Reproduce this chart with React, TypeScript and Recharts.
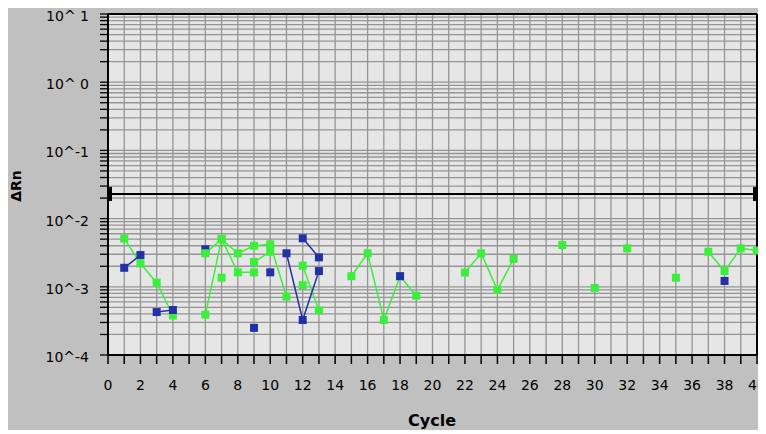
import React from 'react';
import { LineChart, Line, XAxis, YAxis, CartesianGrid, ReferenceLine } from 'recharts';

// Amplification plot: ΔRn (log scale) against PCR cycle, one polyline per well.

type Pt = [number, number];

const cycleTicks = [0, 1, 2, 3, 4, 5, 6, 7, 8, 9, 10, 11, 12, 13, 14, 15, 16, 17, 18, 19, 20,
  21, 22, 23, 24, 25, 26, 27, 28, 29, 30, 31, 32, 33, 34, 35, 36, 37, 38, 39, 40];

const decadeValues = [0.0001, 0.001, 0.01, 0.1, 1, 10];
const decadeLabels = ['10^-4', '10^-3', '10^-2', '10^-1', '10^ 0', '10^ 1'];
const minorSteps = [2, 3, 4, 5, 6, 7, 8, 9];

const threshold = 0.023;

// green wells
const greenWellA: Pt[] = [[1, 0.0051], [2, 0.0022], [3, 0.00115], [4, 0.00038]];
const greenWellB: Pt[] = [[6, 0.0031], [7, 0.005], [8, 0.0031], [9, 0.004], [10, 0.0042], [11, 0.00072]];
const greenWellC: Pt[] = [[6, 0.00039], [7, 0.005], [8, 0.00163], [9, 0.00163]];
const greenWellD: Pt[] = [[9, 0.00231], [10, 0.00327], [12, 0.00106]];
const greenWellE: Pt[] = [[7, 0.00136], [12, 0.00204], [13, 0.00045]];
const greenWellF: Pt[] = [[15, 0.00143], [16, 0.0031], [17, 0.000326], [18, 0.00143], [19, 0.00074]];
const greenWellG: Pt[] = [[22, 0.00162], [23, 0.0031], [24, 0.0009], [25, 0.00257]];
const greenWellH: Pt[] = [[28, 0.0041], [30, 0.00096], [32, 0.00366], [35, 0.00136]];
const greenWellI: Pt[] = [[37, 0.00327], [38, 0.0017], [39, 0.00366], [40, 0.0034]];

// blue wells
const blueWellA: Pt[] = [[1, 0.0019], [2, 0.00292]];
const blueWellB: Pt[] = [[3, 0.000426], [4, 0.000457]];
const blueWellC: Pt[] = [[6, 0.00355]];
const blueWellD: Pt[] = [[9, 0.00025]];
const blueWellE: Pt[] = [[10, 0.00163], [18, 0.00143], [38, 0.00122]];
const blueWellF: Pt[] = [[11, 0.0031], [12, 0.000326], [13, 0.0017]];
const blueWellG: Pt[] = [[12, 0.00514], [13, 0.0027]];

const GREEN = '#3af03a';
const BLUE = '#2232a6';

const gridTicks: number[] = [];
decadeValues.forEach((d, i) => {
  gridTicks.push(d);
  if (i < decadeValues.length - 1) minorSteps.forEach((m) => gridTicks.push(d * m));
});

// one row per cycle so that missing cycles break the line
const toRows = (pts: Pt[]) =>
  cycleTicks.map((c) => {
    const hit = pts.find((p) => p[0] === c);
    return { cycle: c, v: hit ? hit[1] : null };
  });

const squareDot = (color: string) => (props: any) => {
  const { cx, cy, value, index } = props;
  if (cx == null || cy == null || value == null || Number.isNaN(cy)) return <g key={`e${index}`} />;
  return <rect key={`d${index}`} x={cx - 4} y={cy - 4} width={8} height={8} fill={color} />;
};

const yLabel = (v: number) => {
  const e = Math.log10(v);
  if (Math.abs(e - Math.round(e)) > 1e-6) return '';
  const idx = decadeValues.findIndex((d) => Math.abs(Math.log10(d) - e) < 1e-6);
  return idx >= 0 ? decadeLabels[idx] : '';
};

const font = 'DejaVu Sans, sans-serif';

// decade labels sit a touch below their tick
const YTick = (props: any) => {
  const { x, y, payload } = props;
  const text = yLabel(payload.value);
  if (!text) return <g />;
  return (
    <text x={x} y={y + 2} dy="0.355em" textAnchor="end" fontFamily={font} fontSize={14} fill="#000">
      {text}
    </text>
  );
};

const well = (name: string, pts: Pt[], color: string) => (
  <Line
    key={name}
    name={name}
    data={toRows(pts)}
    dataKey="v"
    type="linear"
    stroke={color}
    strokeWidth={1.5}
    dot={squareDot(color)}
    activeDot={false}
    connectNulls={false}
    isAnimationActive={false}
    legendType="none"
  />
);

const thresholdShape = (p: any) => {
  const { x1, y1, x2, y2 } = p;
  return (
    <g>
      <line x1={x1} y1={y1} x2={x2} y2={y2} stroke="#000" strokeWidth={2} />
      <rect x={x1} y={y1 - 7} width={4} height={14} fill="#000" />
      <rect x={x2 - 4} y={y2 - 7} width={4} height={14} fill="#000" />
    </g>
  );
};

if (typeof document !== 'undefined') document.documentElement.style.overflow = 'hidden';

export default function App() {
  return (
    <div style={{ width: 758, height: 422, background: '#c0c0c0' }}>
      <LineChart
        width={758}
        height={422}
        margin={{ top: 6, right: 9, bottom: 35, left: 0 }}
        style={{ overflow: 'visible' }}
      >
        <CartesianGrid stroke="#959595" strokeWidth={1.3} fill="#e6e6e6" fillOpacity={1} />
        <XAxis
          dataKey="cycle"
          type="number"
          domain={[0, 40]}
          ticks={cycleTicks}
          interval={0}
          allowDuplicatedCategory={false}
          tickFormatter={(c: number) => (c % 2 === 0 ? String(c) : '')}
          tickSize={9}
          tickMargin={16}
          height={40}
          axisLine={{ stroke: '#000', strokeWidth: 2 }}
          tickLine={{ stroke: '#000', strokeWidth: 1.5 }}
          tick={{ fill: '#000', fontSize: 14, fontFamily: font }}
          label={{
            content: () => (
              <text x={424} y={418} textAnchor="middle" fontFamily={font} fontWeight="bold" fontSize={16} fill="#000">
                Cycle
              </text>
            ),
          }}
        />
        <YAxis
          type="number"
          scale="log"
          domain={[0.0001, 10]}
          allowDataOverflow
          ticks={gridTicks}
          interval={0}
          width={100}
          tickSize={8}
          tickMargin={11}
          axisLine={{ stroke: '#000', strokeWidth: 2 }}
          tickLine={{ stroke: '#000', strokeWidth: 1.3 }}
          tick={<YTick />}
          label={{
            content: () => (
              <text
                x={13}
                y={178}
                transform="rotate(-90, 13, 178)"
                textAnchor="middle"
                fontFamily={font}
                fontWeight="bold"
                fontSize={14}
                fill="#000"
              >
                ΔRn
              </text>
            ),
          }}
        />
        <ReferenceLine y={10} stroke="#000" strokeWidth={2} />
        <ReferenceLine x={40} stroke="#000" strokeWidth={2} />
        <ReferenceLine y={threshold} shape={thresholdShape} />
        {well('blueWellC', blueWellC, BLUE)}
        {well('greenWellA', greenWellA, GREEN)}
        {well('greenWellB', greenWellB, GREEN)}
        {well('greenWellC', greenWellC, GREEN)}
        {well('greenWellD', greenWellD, GREEN)}
        {well('greenWellE', greenWellE, GREEN)}
        {well('greenWellF', greenWellF, GREEN)}
        {well('greenWellG', greenWellG, GREEN)}
        {well('greenWellH', greenWellH, GREEN)}
        {well('greenWellI', greenWellI, GREEN)}
        {well('blueWellA', blueWellA, BLUE)}
        {well('blueWellB', blueWellB, BLUE)}
        {well('blueWellD', blueWellD, BLUE)}
        {well('blueWellE', blueWellE, BLUE)}
        {well('blueWellF', blueWellF, BLUE)}
        {well('blueWellG', blueWellG, BLUE)}
      </LineChart>
    </div>
  );
}
